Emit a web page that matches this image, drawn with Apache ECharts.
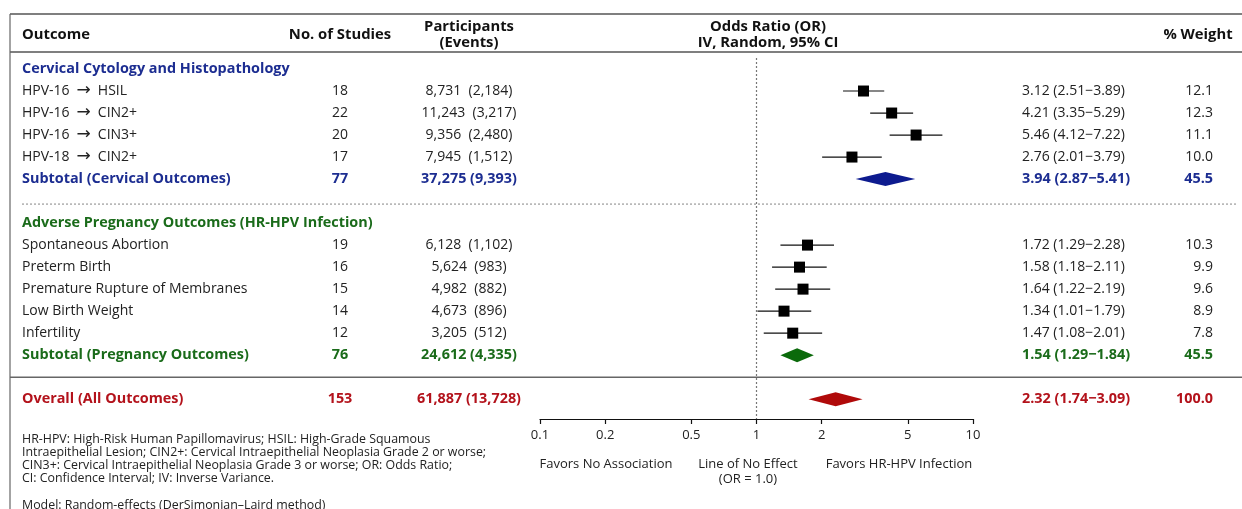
<!DOCTYPE html>
<html>
<head>
<meta charset="UTF-8">
<title>HPV forest plot</title>
<script src="https://cdn.jsdelivr.net/npm/echarts@6/dist/echarts.min.js"></script>
<style>
  html, body { margin: 0; padding: 0; background: #fff; }
  #main { width: 1242px; height: 509px; }
</style>
</head>
<body>
<div id="main"></div>
<script>
// ---- data ----
var groupNames = ['Cervical Cytology and Histopathology', 'Adverse Pregnancy Outcomes (HR-HPV Infection)'];
var groupColors = ['#1c2d91', '#1a6b1a'];
var diamondColors = ['#0d1b8f', '#0b6a0b'];

var outcomeNames = ['HPV-16 \u2192 HSIL', 'HPV-16 \u2192 CIN2+', 'HPV-16 \u2192 CIN3+', 'HPV-18 \u2192 CIN2+',
  'Spontaneous Abortion', 'Preterm Birth', 'Premature Rupture of Membranes', 'Low Birth Weight', 'Infertility'];
var outcomeGroup = [0, 0, 0, 0, 1, 1, 1, 1, 1];
var studies = [18, 22, 20, 17, 19, 16, 15, 14, 12];
var participants = [8731, 11243, 9356, 7945, 6128, 5624, 4982, 4673, 3205];
var events = [2184, 3217, 2480, 1512, 1102, 983, 882, 896, 512];
var oddsRatio = [3.12, 4.21, 5.46, 2.76, 1.72, 1.58, 1.64, 1.34, 1.47];
var ciLow = [2.51, 3.35, 4.12, 2.01, 1.29, 1.18, 1.22, 1.01, 1.08];
var ciHigh = [3.89, 5.29, 7.22, 3.79, 2.28, 2.11, 2.19, 1.79, 2.01];
var weights = [12.1, 12.3, 11.1, 10.0, 10.3, 9.9, 9.6, 8.9, 7.8];

var subtotalNames = ['Subtotal (Cervical Outcomes)', 'Subtotal (Pregnancy Outcomes)'];
var subtotalStudies = [77, 76];
var subtotalParticipants = [37275, 24612];
var subtotalEvents = [9393, 4335];
var subtotalOR = [3.94, 1.54];
var subtotalLow = [2.87, 1.29];
var subtotalHigh = [5.41, 1.84];
var subtotalWeights = [45.5, 45.5];

var overallName = 'Overall (All Outcomes)';
var overallStudies = 153;
var overallParticipants = 61887;
var overallEvents = 13728;
var overallOR = 2.32;
var overallLow = 1.74;
var overallHigh = 3.09;
var overallWeight = 100.0;
var overallColor = '#b3121b';
var overallFill = '#b00a0a';

var xTicks = [0.1, 0.2, 0.5, 1, 2, 5, 10];

// ---- build table rows ----
var FONT = '"Open Sans", sans-serif';
var rows = [];
var rules = [];   // [pos, kind]
var pos = 0;
function fmt(n) { return n.toLocaleString('en-US'); }
function ciText(o, l, h) { return o.toFixed(2) + ' (' + l.toFixed(2) + '\u2212' + h.toFixed(2) + ')'; }

groupNames.forEach(function (g, gi) {
  if (gi > 0) { rules.push([pos, 'dotted']); pos++; }
  rows.push({ pos: pos++, kind: 'group', label: g, color: groupColors[gi] });
  outcomeNames.forEach(function (name, i) {
    if (outcomeGroup[i] !== gi) return;
    rows.push({ pos: pos++, kind: 'study', label: name, color: '#222',
      studies: studies[i], part: fmt(participants[i]) + '  (' + fmt(events[i]) + ')',
      or: oddsRatio[i], lo: ciLow[i], hi: ciHigh[i], w: weights[i] });
  });
  rows.push({ pos: pos++, kind: 'subtotal', label: subtotalNames[gi], color: groupColors[gi], fill: diamondColors[gi],
    studies: subtotalStudies[gi], part: fmt(subtotalParticipants[gi]) + ' (' + fmt(subtotalEvents[gi]) + ')',
    or: subtotalOR[gi], lo: subtotalLow[gi], hi: subtotalHigh[gi], w: subtotalWeights[gi] });
});
rules.push([pos, 'solid']); pos++;
rows.push({ pos: pos++, kind: 'overall', label: overallName, color: overallColor, fill: overallFill,
  studies: overallStudies, part: fmt(overallParticipants) + ' (' + fmt(overallEvents) + ')',
  or: overallOR, lo: overallLow, hi: overallHigh, w: overallWeight });

var studyRows = rows.filter(function (r) { return r.kind === 'study'; });
var diamondRows = rows.filter(function (r) { return r.kind === 'subtotal' || r.kind === 'overall'; });

// ---- render helpers ----
function txt(x, y, s, align, color, bold, size) {
  var font = (bold ? 'bold ' : '') + (size || 14) + 'px ' + FONT;
  return { type: 'text', x: x, y: y, style: {
    text: s.replace(' \u2192 ', '\u2002{arr|\u2192}\u2002'), fill: color, align: align, verticalAlign: 'middle', font: font,
    rich: { arr: { fontFamily: '"DejaVu Sans"', fontSize: 17, fill: color } } } };
}

function renderTable(params, api) {
  var r = rows[params.dataIndex];
  var y = api.coord([1, r.pos])[1];
  var bold = r.kind !== 'study';
  var size = bold ? 14.4 : 14;
  var kids = [txt(22, y, r.label, 'left', r.color, bold, size)];
  if (r.kind !== 'group') {
    kids.push(txt(340, y, String(r.studies), 'center', r.color, bold, size));
    kids.push(txt(469, y, r.part, 'center', r.color, bold, size));
    kids.push(txt(1022, y, ciText(r.or, r.lo, r.hi), 'left', r.color, bold, size));
    kids.push(txt(1213, y, r.w.toFixed(1), 'right', r.color, bold, size));
  }
  return { type: 'group', children: kids };
}

function renderStudy(params, api) {
  var c = api.coord([api.value(0), api.value(3)]);
  var l = api.coord([api.value(1), api.value(3)]);
  var h = api.coord([api.value(2), api.value(3)]);
  return { type: 'group', children: [
    { type: 'line', shape: { x1: l[0], y1: c[1], x2: h[0], y2: c[1] }, style: { stroke: '#111', lineWidth: 1.2 } },
    { type: 'rect', shape: { x: c[0] - 5.5, y: c[1] - 5.5, width: 11, height: 11 }, style: { fill: '#000' } }
  ] };
}

function renderDiamond(params, api) {
  var r = diamondRows[params.dataIndex];
  var c = api.coord([api.value(0), api.value(3)]);
  var l = api.coord([api.value(1), api.value(3)]);
  var h = api.coord([api.value(2), api.value(3)]);
  return { type: 'polygon', shape: { points: [[l[0], c[1]], [c[0], c[1] - 7], [h[0], c[1]], [c[0], c[1] + 7]] },
    style: { fill: r.fill } };
}

function renderRule(params, api) {
  var y = api.coord([1, api.value(1)])[1];
  var solid = rules[params.dataIndex][1] === 'solid';
  return { type: 'line', shape: solid ? { x1: 10, y1: y, x2: 1242, y2: y } : { x1: 22, y1: y + 3, x2: 1237, y2: y + 3 },
    style: { stroke: solid ? '#666' : '#999', lineWidth: solid ? 1.5 : 1.2, lineDash: solid ? null : [2, 2] } };
}

function renderNoEffect(params, api) {
  var cs = params.coordSys;
  var x = api.coord([api.value(0), 0])[0];
  return { type: 'line', shape: { x1: x, y1: cs.y, x2: x, y2: cs.y + cs.height },
    style: { stroke: '#777', lineWidth: 1.2, lineDash: [2, 2] } };
}

// ---- chart ----
var myChart = echarts.init(document.getElementById('main'));
var option = {
  animation: false,
  backgroundColor: '#fff',
  grid: { left: 540, right: 269, top: 58, height: 361 },
  xAxis: {
    type: 'log', logBase: 10, min: 0.1, max: 10, position: 'bottom',
    axisLine: { onZero: false, lineStyle: { color: '#111', width: 1.2 } },
    axisTick: { show: true, length: 5, customValues: xTicks, lineStyle: { color: '#111', width: 1.2 } },
    axisLabel: { customValues: xTicks, margin: 10, color: '#222', fontSize: 13, fontFamily: FONT,
      formatter: function (v) { return String(+(+v).toPrecision(3)); } },
    splitLine: { show: false }
  },
  yAxis: { type: 'value', min: -0.5, max: 15.9, inverse: true, show: false, splitLine: { show: false } },
  series: [
    { type: 'custom', name: 'rules', silent: true, clip: false, renderItem: renderRule,
      data: rules.map(function (r) { return [1, r[0]]; }) },
    { type: 'custom', name: 'noEffect', silent: true, renderItem: renderNoEffect, data: [[1, 0]] },
    { type: 'custom', name: 'studies', silent: true, renderItem: renderStudy, encode: { x: [0, 1, 2], y: 3 },
      data: studyRows.map(function (r) { return [r.or, r.lo, r.hi, r.pos]; }) },
    { type: 'custom', name: 'pooled', silent: true, renderItem: renderDiamond, encode: { x: [0, 1, 2], y: 3 },
      data: diamondRows.map(function (r) { return [r.or, r.lo, r.hi, r.pos]; }) },
    { type: 'custom', name: 'table', silent: true, clip: false, renderItem: renderTable,
      data: rows.map(function (r) { return [1, r.pos]; }) }
  ],
  graphic: [
    { type: 'line', shape: { x1: 10, y1: 14, x2: 1242, y2: 14 }, style: { stroke: '#555', lineWidth: 1.5 } },
    { type: 'line', shape: { x1: 10, y1: 52, x2: 1242, y2: 52 }, style: { stroke: '#555', lineWidth: 1.5 } },
    { type: 'line', shape: { x1: 10, y1: 14, x2: 10, y2: 509 }, style: { stroke: '#666', lineWidth: 1.2 } },
    txt(22, 35, 'Outcome', 'left', '#111', true, 14.8),
    txt(340, 35, 'No. of Studies', 'center', '#111', true, 14.8),
    txt(469, 27, 'Participants', 'center', '#111', true, 14.8),
    txt(469, 43, '(Events)', 'center', '#111', true, 14.8),
    txt(768, 27, 'Odds Ratio (OR)', 'center', '#111', true, 14.8),
    txt(768, 43, 'IV, Random, 95% CI', 'center', '#111', true, 14.8),
    txt(1198, 35, '% Weight', 'center', '#111', true, 14.8),
    txt(606, 464, 'Favors No Association', 'center', '#222', false, 13),
    txt(748, 464, 'Line of No Effect', 'center', '#222', false, 13),
    txt(748, 479, '(OR = 1.0)', 'center', '#222', false, 13),
    txt(899, 464, 'Favors HR-HPV Infection', 'center', '#222', false, 13),
    txt(22, 439, 'HR-HPV: High-Risk Human Papillomavirus; HSIL: High-Grade Squamous', 'left', '#222', false, 12.4),
    txt(22, 452, 'Intraepithelial Lesion; CIN2+: Cervical Intraepithelial Neoplasia Grade 2 or worse;', 'left', '#222', false, 12.4),
    txt(22, 465, 'CIN3+: Cervical Intraepithelial Neoplasia Grade 3 or worse; OR: Odds Ratio;', 'left', '#222', false, 12.4),
    txt(22, 478, 'CI: Confidence Interval; IV: Inverse Variance.', 'left', '#222', false, 12.4),
    txt(22, 505, 'Model: Random-effects (DerSimonian\u2013Laird method)', 'left', '#222', false, 12.4)
  ]
};
myChart.setOption(option);
</script>
</body>
</html>
